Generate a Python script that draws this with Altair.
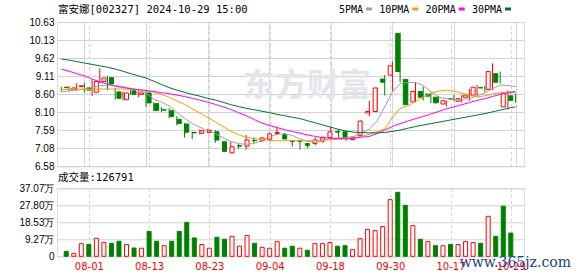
import json
import altair as alt
import pandas as pd

# ---------------- data ----------------
title_text = "富安娜[002327] 2024-10-29 15:00"
vol_title = "成交量:126791"

dates = ["07-29", "07-30", "07-31",
         "08-01", "08-02", "08-05", "08-06", "08-07", "08-08", "08-09", "08-12", "08-13",
         "08-14", "08-15", "08-16", "08-19", "08-20", "08-21", "08-22", "08-23", "08-26",
         "08-27", "08-28", "08-29", "08-30",
         "09-02", "09-03", "09-04", "09-05", "09-06", "09-09", "09-10", "09-11", "09-12",
         "09-13", "09-18", "09-19", "09-20", "09-23", "09-24", "09-25", "09-26", "09-27",
         "09-30",
         "10-08", "10-09", "10-10", "10-11", "10-14", "10-15", "10-16", "10-17", "10-18",
         "10-21", "10-22", "10-23", "10-24", "10-25", "10-28", "10-29"]

opens = [8.80, 8.72, 8.82, 8.78, 8.66, 8.96, 9.07, 8.67, 8.45, 8.70,
         8.60, 8.64, 8.34, 8.17, 8.14, 7.90, 7.77, 7.53, 7.51, 7.53,
         7.55, 7.27, 6.96, 7.16, 7.15, 7.31, 7.30, 7.34, 7.50, 7.48,
         7.29, 7.29, 7.22, 7.22, 7.29, 7.39, 7.56, 7.55, 7.33, 7.45,
         8.08, 8.12, 9.03, 9.14, 10.31, 9.02, 8.39, 8.68, 8.61, 8.52,
         8.33, 8.48, 8.41, 8.52, 8.58, 8.79, 8.74, 9.18, 8.25, 8.56]
highs = [8.81, 8.83, 8.91, 8.92, 9.02, 9.33, 9.12, 8.78, 8.68, 8.76,
         8.69, 8.72, 8.38, 8.24, 8.21, 7.99, 7.79, 7.56, 7.62, 7.63,
         7.60, 7.28, 7.27, 7.22, 7.46, 7.40, 7.39, 7.53, 7.70, 7.52,
         7.30, 7.30, 7.23, 7.39, 7.42, 7.70, 7.63, 7.56, 7.43, 7.87,
         8.42, 8.79, 9.14, 9.52, 10.33, 9.03, 8.94, 8.82, 8.65, 8.56,
         8.43, 8.58, 8.58, 8.75, 8.86, 8.84, 9.47, 9.24, 8.71, 8.62]
lows = [8.68, 8.68, 8.72, 8.66, 8.56, 8.92, 8.72, 8.45, 8.43, 8.59,
        8.52, 8.25, 8.13, 8.10, 7.93, 7.73, 7.39, 7.35, 7.47, 7.52,
        7.24, 6.99, 6.95, 7.07, 7.05, 7.23, 7.26, 7.33, 7.46, 7.34,
        7.14, 7.05, 7.09, 7.18, 7.24, 7.37, 7.38, 7.30, 7.31, 7.44,
        7.99, 8.10, 8.57, 8.70, 8.94, 8.30, 8.38, 8.43, 8.35, 8.36,
        8.26, 8.41, 8.37, 8.42, 8.54, 8.67, 8.72, 8.90, 8.18, 8.37]
closes = [8.79, 8.78, 8.84, 8.72, 8.96, 9.06, 8.89, 8.49, 8.64, 8.60,
          8.64, 8.36, 8.15, 8.16, 7.98, 7.78, 7.54, 7.52, 7.58, 7.59,
          7.32, 7.00, 7.13, 7.15, 7.32, 7.30, 7.38, 7.49, 7.53, 7.35,
          7.28, 7.28, 7.17, 7.32, 7.38, 7.55, 7.54, 7.36, 7.38, 7.85,
          8.12, 8.78, 8.94, 9.40, 9.24, 8.31, 8.68, 8.52, 8.55, 8.36,
          8.42, 8.47, 8.48, 8.58, 8.80, 8.78, 9.24, 8.94, 8.63, 8.43]

# volume in units of 万 (10,000)
volumes = [2.7, 1.6, 6.9, 6.5, 9.8, 7.6, 7.1, 8.2, 6.4, 4.5,
           4.4, 13.6, 8.2, 5.8, 8.2, 13.6, 18.5, 10.0, 6.4, 4.4,
           10.4, 9.3, 10.9, 5.5, 11.3, 7.1, 4.9, 4.4, 8.0, 4.4,
           5.5, 4.4, 3.3, 6.9, 6.9, 7.5, 5.5, 5.8, 3.6, 9.6,
           14.7, 14.0, 16.2, 30.9, 34.9, 27.8, 16.7, 9.3, 8.0, 5.8,
           5.8, 6.5, 6.4, 8.0, 7.5, 7.1, 21.8, 10.9, 27.3, 12.6791]
vol_dirs = ["down", "up", "up", "down", "up", "up", "down", "down", "up", "down",
            "up", "down", "down", "up", "down", "down", "down", "down", "up", "up",
            "down", "down", "up", "up", "up", "down", "up", "up", "up", "down",
            "down", "up", "down", "up", "up", "up", "down", "down", "up", "up",
            "up", "up", "up", "up", "down", "down", "up", "down", "up", "down",
            "up", "down", "up", "up", "up", "down", "up", "down", "down", "down"]

ma_names = ["5PMA", "10PMA", "20PMA", "30PMA"]
ma5 = [8.67, 8.70, 8.72, 8.75, 8.80, 8.84, 8.86, 8.85, 8.82, 8.77,
       8.72, 8.63, 8.47, 8.38, 8.28, 8.10, 7.93, 7.78, 7.68, 7.58,
       7.50, 7.38, 7.28, 7.22, 7.20, 7.22, 7.30, 7.40, 7.48, 7.49,
       7.45, 7.35, 7.28, 7.26, 7.30, 7.36, 7.38, 7.39, 7.42, 7.53,
       7.62, 7.85, 8.25, 8.66, 8.90, 8.93, 8.93, 8.85, 8.68, 8.52,
       8.48, 8.46, 8.46, 8.48, 8.56, 8.64, 8.76, 8.86, 8.85, 8.82]
ma10 = [8.74, 8.74, 8.74, 8.74, 8.74, 8.75, 8.75, 8.75, 8.75, 8.74,
        8.73, 8.71, 8.66, 8.60, 8.52, 8.42, 8.32, 8.20, 8.08, 7.95,
        7.83, 7.70, 7.57, 7.47, 7.40, 7.36, 7.33, 7.31, 7.30, 7.30,
        7.30, 7.30, 7.30, 7.31, 7.32, 7.33, 7.34, 7.35, 7.38, 7.42,
        7.48, 7.55, 7.63, 7.95, 8.20, 8.28, 8.40, 8.52, 8.63, 8.69,
        8.72, 8.69, 8.64, 8.57, 8.53, 8.56, 8.61, 8.65, 8.67, 8.68]
ma20 = [9.31, 9.25, 9.18, 9.12, 9.03, 8.95, 8.89, 8.83, 8.79, 8.76,
        8.73, 8.71, 8.68, 8.65, 8.62, 8.58, 8.54, 8.49, 8.44, 8.38,
        8.32, 8.25, 8.18, 8.09, 8.00, 7.90, 7.80, 7.73, 7.67, 7.61,
        7.56, 7.51, 7.46, 7.42, 7.39, 7.37, 7.36, 7.36, 7.37, 7.40,
        7.42, 7.50, 7.60, 7.70, 7.78, 7.85, 7.92, 7.98, 8.05, 8.12,
        8.19, 8.25, 8.31, 8.37, 8.43, 8.48, 8.54, 8.60, 8.64, 8.67]
ma30 = [9.59, 9.56, 9.52, 9.48, 9.44, 9.40, 9.36, 9.31, 9.25, 9.18,
        9.12, 9.06, 8.97, 8.88, 8.79, 8.72, 8.66, 8.60, 8.55, 8.49,
        8.44, 8.38, 8.31, 8.26, 8.21, 8.17, 8.13, 8.09, 8.04, 8.00,
        7.96, 7.92, 7.86, 7.80, 7.74, 7.68, 7.62, 7.57, 7.54, 7.53,
        7.52, 7.52, 7.53, 7.56, 7.60, 7.65, 7.70, 7.74, 7.78, 7.82,
        7.86, 7.90, 7.94, 7.98, 8.02, 8.06, 8.11, 8.16, 8.21, 8.25]

price_labels = ["6.58", "7.08", "7.59", "8.10", "8.60", "9.11", "9.62", "10.13", "10.63"]
vol_labels = ["0", "9.27万", "18.53万", "27.80万", "37.07万"]
tick_labels = ["08-01", "08-13", "08-23", "09-04", "09-18", "09-30", "10-17", "10-29"]

# ---------------- tables ----------------
n = len(dates)
df = pd.DataFrame({
    "idx": list(range(n)), "date": dates,
    "open": opens, "high": highs, "low": lows, "close": closes,
    "vol": volumes, "vdir": vol_dirs,
})
df["dir"] = ["up" if c >= o else "down" for o, c in zip(opens, closes)]

ma_rows = []
for name, series in zip(ma_names, [ma5, ma10, ma20, ma30]):
    for i, v in enumerate(series):
        ma_rows.append({"idx": i, "ma": name, "value": v})
ma_df = pd.DataFrame(ma_rows)
legend_df = pd.DataFrame({"ma": ma_names})

# ---------------- styling ----------------
RED = "#ff0000"
GREEN = "#008000"
ma_colors = ["#a0a0a0", "#f2a000", "#ff00ff", "#00703c"]
GRID = "#d3d3d3"
NUM_FONT = "DejaVu Sans, Noto Sans CJK SC"
MONO_FONT = "DejaVu Sans Mono, Noto Sans CJK SC"

W = 467
H_PRICE = 144.4
H_VOL = 68
AXIS_W = 46   # room kept left of the plots for the value labels

lo, hi = float(price_labels[0]), float(price_labels[-1])
pstep = (hi - lo) / (len(price_labels) - 1)
price_ticks = [lo + k * pstep for k in range(len(price_labels))]
price_expr = f"{json.dumps(price_labels, ensure_ascii=False)}[round((datum.value - {lo}) / {pstep})]"

vmax = float(vol_labels[-1].replace("万", ""))
vstep = vmax / (len(vol_labels) - 1)
vol_ticks = [k * vstep for k in range(len(vol_labels))]
vol_expr = f"{json.dumps(vol_labels, ensure_ascii=False)}[round(datum.value / {vstep})]"

tick_idx = [dates.index(t) for t in tick_labels]
date_expr = f"{json.dumps(dates)}[round(datum.value)]"

xscale = alt.Scale(domain=[-0.56, 60.09], nice=False, zero=False)
x_price = alt.X("idx:Q", scale=xscale,
                axis=alt.Axis(values=tick_idx, grid=True, gridDash=[3, 3], gridColor=GRID,
                              labels=False, ticks=False, domain=False, title=None))
x_vol = alt.X("idx:Q", scale=xscale,
              axis=alt.Axis(values=tick_idx, grid=True, gridDash=[3, 3], gridColor=GRID,
                            labelExpr=date_expr, labelColor=RED, labelFont=NUM_FONT,
                            labelFontSize=10, labelPadding=5, ticks=False, domain=False,
                            title=None))

yscale = alt.Scale(domain=[lo, hi], nice=False, zero=False)
y_axis = alt.Axis(values=price_ticks, labelExpr=price_expr, title=None, grid=True,
                  gridColor=GRID, ticks=False, domain=False, labelPadding=3)


def py(field):
    return alt.Y(f"{field}:Q", scale=yscale, axis=y_axis)


ma_color = alt.Color("ma:N", sort=ma_names,
                     scale=alt.Scale(domain=ma_names, range=ma_colors), legend=None)

up_stroke = alt.condition("datum.dir == 'up'", alt.value(RED), alt.value(GREEN))
up_fill = alt.condition("datum.dir == 'up'", alt.value("#ffffff"), alt.value(GREEN))

base = alt.Chart(df)

watermark = alt.Chart(pd.DataFrame({"t": ["东方财富"]})).mark_text(
    font="Noto Sans CJK SC", fontSize=32, fontWeight="bold", color="#e4e4ea",
    align="center", baseline="middle"
).encode(text="t:N", x=alt.value(250), y=alt.value(64))

wicks = base.mark_rule(strokeWidth=1).encode(
    x=x_price, y=py("low"), y2="high:Q", stroke=up_stroke)
bodies = base.mark_bar(size=4, strokeWidth=1).encode(
    x=x_price, y=py("open"), y2="close:Q", fill=up_fill, stroke=up_stroke)

ma_lines = alt.Chart(ma_df).mark_line(strokeWidth=1).encode(
    x=x_price, y=py("value"), color=ma_color, order="idx:Q")

# heading row above the plot: stock title at left, MA key at right
head = alt.Chart(pd.DataFrame({"t": [title_text]})).mark_text(
    font=MONO_FONT, fontSize=10.5, color="#000000", align="left", baseline="middle"
).encode(text="t:N", x=alt.value(1), y=alt.value(-12.3))

leg_x = alt.X("ma:N", sort=ma_names,
              scale=alt.Scale(type="point", domain=ma_names, range=[306, 445], padding=0),
              axis=None)
leg_text = alt.Chart(legend_df).mark_text(
    font=MONO_FONT, fontSize=10, color="#000000", align="right", baseline="middle"
).encode(x=leg_x, y=alt.value(-12.3), text="ma:N")
leg_swatch = alt.Chart(legend_df).mark_point(
    shape="M-1,-0.5H1V0.5H-1Z", size=36, filled=True, opacity=1, xOffset=6
).encode(x=leg_x, y=alt.value(-13), color=ma_color)
legend_layer = alt.layer(leg_text, leg_swatch)

price = alt.layer(watermark, wicks, bodies, ma_lines, head, legend_layer).resolve_scale(
    x="independent").properties(width=W, height=H_PRICE)

# volume panel
vstroke = alt.condition("datum.vdir == 'up'", alt.value(RED), alt.value(GREEN))
vfill = alt.condition("datum.vdir == 'up'", alt.value("#ffffff"), alt.value(GREEN))
vbars = base.mark_bar(size=4, strokeWidth=1).encode(
    x=x_vol,
    y=alt.Y("vol:Q", scale=alt.Scale(domain=[0, vmax], nice=False),
            axis=alt.Axis(values=vol_ticks, labelExpr=vol_expr, title=None, grid=True,
                          gridColor=GRID, ticks=False, domain=False, labelPadding=3)),
    fill=vfill, stroke=vstroke)

vol_head = alt.Chart(pd.DataFrame({"t": [vol_title]})).mark_text(
    font=MONO_FONT, fontSize=10.5, color="#000000", align="left", baseline="middle"
).encode(text="t:N", x=alt.value(1), y=alt.value(-10))

# keeps the left label column at a fixed width (invisible)
spacer = alt.Chart(pd.DataFrame({"t": [""]})).mark_rule(opacity=0).encode(
    x=alt.value(-AXIS_W), y=alt.value(0), y2=alt.value(1))

site = alt.Chart(pd.DataFrame({"t": ["www.365jz.com"]})).mark_text(
    font="DejaVu Serif", fontSize=14, color="#1d3f8e", align="right",
    baseline="middle").encode(text="t:N", x=alt.value(514), y=alt.value(75))

volume = alt.layer(vbars, vol_head, spacer, site).properties(width=W, height=H_VOL)

chart = alt.vconcat(price, volume, spacing=21.3, bounds="flush").properties(
    padding={"left": 10, "top": 4, "right": 0, "bottom": 0}
).configure_view(
    stroke="#a0a0a0", strokeWidth=1
).configure_axis(
    labelFont=NUM_FONT, labelFontSize=11, labelColor="#000000"
).configure(background="#ffffff")

chart.save("out.html", embed_options={"renderer": "svg", "actions": False})
